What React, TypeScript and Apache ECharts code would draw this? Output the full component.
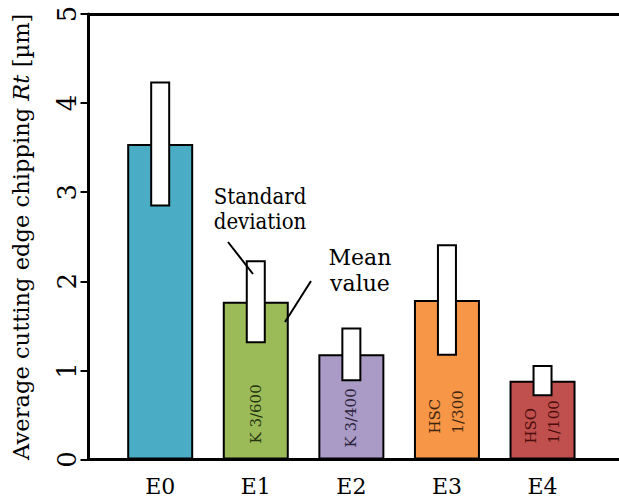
import React, { useEffect, useRef } from "react";
import * as echarts from "echarts";

const categories = ["E0", "E1", "E2", "E3", "E4"];
const meanValues = [3.54, 1.77, 1.18, 1.79, 0.885];
const stdDevs = [0.69, 0.455, 0.29, 0.615, 0.165];
const barLabels = ["", "K 3/600", "K 3/400", "HSC\n1/300", "HSO\n1/100"];
const barColors = ["#4BACC6", "#9BBB59", "#A99BC6", "#F79646", "#C0504D"];
const labelColors = ["#000", "#24330e", "#2a2238", "#3d2410", "#4a0c0c"];
const labelDistances = [0, 16, 12, 26, 16];

const FONT = "DejaVu Serif";

export default function App() {
  const ref = useRef<HTMLDivElement>(null);
  useEffect(() => {
    if (!ref.current) return;
    const chart = echarts.init(ref.current, null, { renderer: "svg" });
    const barData = categories.map((c, i) => ({
      value: [i, meanValues[i]],
      itemStyle: { color: barColors[i] },
      label: {
        show: barLabels[i] !== "",
        formatter: barLabels[i],
        color: labelColors[i],
        distance: labelDistances[i],
      },
    }));
    const sdData = categories.map((c, i) => [i, meanValues[i], stdDevs[i]]);
    chart.setOption({
      animation: false,
      textStyle: { fontFamily: FONT },
      grid: { left: 88.5, right: 0, top: 14, bottom: 41.5 },
      xAxis: [
        {
          type: "value",
          min: -0.75,
          max: 4.8,
          splitLine: { show: false },
          axisLine: { show: true, onZero: false, lineStyle: { color: "#000", width: 3 } },
          axisTick: { show: false },
          axisLabel: {
            customValues: [0, 1, 2, 3, 4],
            formatter: (v: number) => categories[Math.round(v)] ?? "",
            fontFamily: FONT,
            fontSize: 22,
            color: "#000",
            margin: 16,
          },
        },
        {
          type: "value",
          position: "top",
          min: -0.75,
          max: 4.8,
          splitLine: { show: false },
          axisLine: { show: true, onZero: false, lineStyle: { color: "#000", width: 3 } },
          axisTick: { show: false },
          axisLabel: { show: false },
        },
      ],
      yAxis: {
        type: "value",
        min: 0,
        max: 5,
        interval: 1,
        splitLine: { show: false },
        axisLine: { show: true, onZero: false, lineStyle: { color: "#000", width: 3 } },
        axisTick: { show: true, length: 8, lineStyle: { color: "#000", width: 2 } },
        axisLabel: {
          rotate: 90,
          fontFamily: FONT,
          fontSize: 26,
          color: "#000",
          margin: 9,
        },
        name: "Average cutting edge chipping {i|Rt} [µm]",
        nameLocation: "middle",
        nameGap: 56,
        nameTextStyle: {
          fontFamily: FONT,
          fontSize: 22.6,
          color: "#000",
          rich: {
            i: { fontFamily: FONT, fontSize: 22.6, fontStyle: "italic", color: "#000" },
          },
        },
      },
      series: [
        {
          type: "bar",
          xAxisIndex: 0,
          barWidth: 66,
          data: barData,
          itemStyle: { borderColor: "#000", borderWidth: 2 },
          label: {
            position: "insideBottom",
            rotate: 90,
            align: "left",
            verticalAlign: "middle",
            fontFamily: FONT,
            fontSize: 15,
            lineHeight: 23,
          },
          z: 2,
        },
        {
          type: "custom",
          xAxisIndex: 0,
          data: sdData,
          z: 3,
          renderItem: (params: any, api: any) => {
            const x = api.value(0);
            const m = api.value(1);
            const s = api.value(2);
            const top = api.coord([x, m + s]);
            const bot = api.coord([x, m - s]);
            return {
              type: "rect",
              shape: { x: top[0] - 9, y: top[1], width: 18, height: bot[1] - top[1] },
              style: { fill: "#fff", stroke: "#000", lineWidth: 2 },
            };
          },
        },
      ],
      graphic: [
        {
          type: "text",
          x: 260,
          y: 209,
          scaleX: 0.9,
          style: {
            text: "Standard\ndeviation",
            fontFamily: FONT,
            fontSize: 22,
            lineHeight: 25,
            fill: "#000",
            align: "center",
            verticalAlign: "middle",
          },
        },
        {
          type: "line",
          shape: { x1: 228, y1: 242, x2: 253, y2: 274 },
          style: { stroke: "#000", lineWidth: 2 },
          z: 10,
        },
        {
          type: "text",
          x: 360,
          y: 270,
          style: {
            text: "Mean\nvalue",
            fontFamily: FONT,
            fontSize: 22,
            lineHeight: 26,
            fill: "#000",
            align: "center",
            verticalAlign: "middle",
          },
        },
        {
          type: "line",
          shape: { x1: 311, y1: 281, x2: 285, y2: 322 },
          style: { stroke: "#000", lineWidth: 2 },
          z: 10,
        },
      ],
    });
    return () => chart.dispose();
  }, []);
  return (
    <div
      ref={ref}
      style={{ position: "fixed", left: 0, top: 0, width: 619, height: 501, background: "#fff" }}
    />
  );
}
